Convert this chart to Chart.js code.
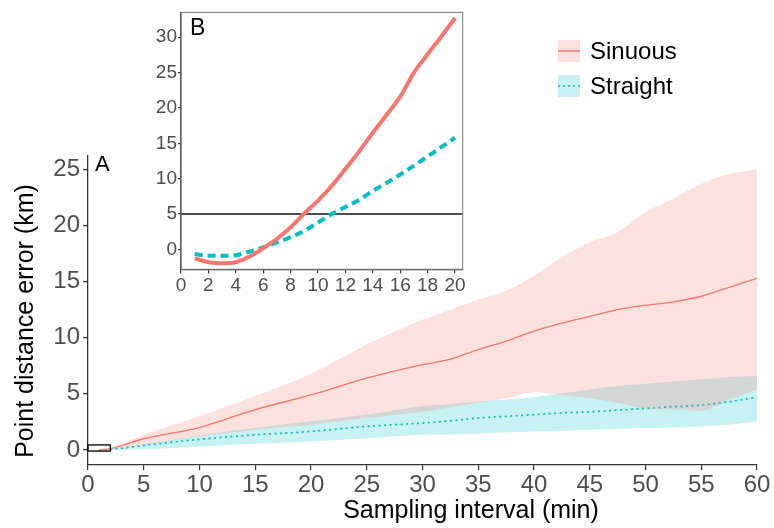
<!DOCTYPE html>
<html>
<head>
<meta charset="utf-8">
<script src="https://cdn.jsdelivr.net/npm/chart.js@4.4.0/dist/chart.umd.min.js"></script>
<style>
  body { margin: 0; background: #fff; }
  #wrap { position: relative; width: 774px; height: 528px; }
  #main { position: absolute; left: 0; top: 0; }
  #inset { position: absolute; left: 140px; top: 0; }
</style>
</head>
<body>
<div id="wrap">
  <canvas id="main" width="774" height="528"></canvas>
  <canvas id="inset" width="335" height="300"></canvas>
</div>
<script>
// panel A: sampling interval (min) vs point distance error (km)
var interval = [1, 2, 5, 10, 15, 20, 25, 30, 32.5, 35, 37.5, 40, 42.5, 45, 47.5, 50, 52.5, 55, 57.5, 60];
var sinuousMean = [0, 0.12, 1.0, 2.0, 3.6, 4.9, 6.4, 7.6, 8.1, 8.95, 9.7, 10.6, 11.3, 11.9, 12.5, 12.9, 13.2, 13.7, 14.5, 15.3];
var sinuousLow = [0, 0.08, 0.45, 1.2, 1.8, 2.25, 2.85, 3.4, 3.8, 4.2, 4.6, 5.15, 4.9, 4.6, 4.2, 3.7, 3.6, 3.5, 4.5, 5.4];
var sinuousHigh = [0, 0.15, 1.35, 3.0, 4.8, 6.8, 9.4, 11.6, 12.5, 13.4, 14.2, 15.5, 17.2, 18.5, 19.4, 21.2, 22.4, 23.7, 24.6, 25.0];
var straightMean = [0, 0.05, 0.4, 0.95, 1.35, 1.65, 2.1, 2.4, 2.6, 2.85, 3.0, 3.15, 3.3, 3.4, 3.55, 3.7, 3.85, 4.0, 4.3, 4.7];
var straightLow = [0, 0.02, 0.05, 0.3, 0.55, 0.75, 1.05, 1.35, 1.4, 1.45, 1.55, 1.65, 1.7, 1.8, 1.9, 1.95, 2.0, 2.1, 2.25, 2.55];
var straightHigh = [0, 0.08, 0.5, 1.3, 1.95, 2.55, 3.15, 3.9, 4.1, 4.3, 4.5, 4.7, 5.05, 5.4, 5.7, 5.9, 6.1, 6.3, 6.5, 6.6];
var xTicks = [0, 5, 10, 15, 20, 25, 30, 35, 40, 45, 50, 55, 60];
var yTicks = [0, 5, 10, 15, 20, 25];
var zoomBoxX = [0, 2];
var zoomBoxY = [-0.1, 0.45];

// panel B: zoom on first 20 min
var intervalB = [1, 2, 3, 4, 5, 6, 7, 8, 9, 10, 11, 12, 13, 14, 15, 16, 17, 18, 19, 20];
var sinuousB = [-1.26, -1.8, -1.95, -1.8, -1.0, 0.2, 1.5, 3.15, 5.1, 6.9, 9.0, 11.4, 13.85, 16.5, 19.0, 21.6, 25.0, 27.6, 30.1, 32.7];
var straightB = [-0.65, -0.9, -0.9, -0.8, -0.3, 0.3, 1.0, 1.75, 2.65, 3.8, 5.0, 6.0, 7.0, 8.3, 9.4, 10.6, 11.85, 13.15, 14.45, 15.8];
var xTicksB = [0, 2, 4, 6, 8, 10, 12, 14, 16, 18, 20];
var yTicksB = [0, 5, 10, 15, 20, 25, 30];
var refLineB = 5;

var RED = '#F8766D';
var CYAN = '#00BFC4';
var RED_FILL = 'rgba(248,118,109,0.22)';
var CYAN_FILL = 'rgba(0,191,196,0.22)';
var FONT = '"Liberation Sans", Arial, sans-serif';

function pts(xs, ys) {
    return xs.map(function (x, i) { return { x: x, y: ys[i] }; });
}

var extras = {
    id: 'extras',
    afterDraw: function (chart) {
        var c = chart.ctx, xs = chart.scales.x, ys = chart.scales.y;
        c.save();
        // zoom rectangle
        c.strokeStyle = '#000';
        c.lineWidth = 1.3;
        var x0 = xs.getPixelForValue(zoomBoxX[0]), x1 = xs.getPixelForValue(zoomBoxX[1]);
        var y0 = ys.getPixelForValue(zoomBoxY[1]), y1 = ys.getPixelForValue(zoomBoxY[0]);
        c.strokeRect(x0, y0, x1 - x0, y1 - y0);

        c.fillStyle = '#000';
        c.textBaseline = 'middle';
        c.font = '22px ' + FONT;
        c.textAlign = 'left';
        c.fillText('A', 95, 165);

        c.font = '25px ' + FONT;
        c.textAlign = 'center';
        c.fillText('Sampling interval (min)', 471, 511);
        c.save();
        c.translate(26, 321);
        c.rotate(-Math.PI / 2);
        c.fillText('Point distance error (km)', 0, 0);
        c.restore();

        // legend
        var items = [['Sinuous', RED, RED_FILL, []], ['Straight', CYAN, CYAN_FILL, [2, 3]]];
        c.font = '24px ' + FONT;
        c.textAlign = 'left';
        items.forEach(function (it, i) {
            var top = 40 + i * 35;
            c.fillStyle = it[2];
            c.fillRect(558, top, 22, 22);
            c.strokeStyle = it[1];
            c.lineWidth = 1.5;
            c.setLineDash(it[3]);
            c.beginPath();
            c.moveTo(558, top + 11);
            c.lineTo(580, top + 11);
            c.stroke();
            c.setLineDash([]);
            c.fillStyle = '#000';
            c.fillText(it[0], 590, top + 12);
        });
        c.restore();
    }
};

var axisStyle = function (size) {
    return {
        grid: { drawOnChartArea: false, tickLength: 5, color: '#333', lineWidth: 1.2 },
        border: { display: true, color: '#333', width: 1.3 },
        ticks: { color: '#4d4d4d', font: { size: size, family: FONT }, maxRotation: 0, autoSkip: false }
    };
};

var band = { borderWidth: 0, pointRadius: 0, cubicInterpolationMode: 'monotone' };
function ds(extra) { return Object.assign({}, band, extra); }

var mx = axisStyle(24), my = axisStyle(24);
mx.ticks.padding = 1;
my.ticks.padding = 3;
new Chart(document.getElementById('main'), {
    type: 'line',
    data: {
        datasets: [
            ds({ data: pts(interval, sinuousLow), fill: false }),
            ds({ data: pts(interval, sinuousHigh), fill: 0, backgroundColor: RED_FILL }),
            ds({ data: pts(interval, straightLow), fill: false }),
            ds({ data: pts(interval, straightHigh), fill: 2, backgroundColor: CYAN_FILL }),
            ds({ label: 'Sinuous', data: pts(interval, sinuousMean), borderColor: RED, borderWidth: 1.3, fill: false }),
            ds({ label: 'Straight', data: pts(interval, straightMean), borderColor: CYAN, borderWidth: 1.7, borderDash: [2, 3.5], fill: false })
        ]
    },
    options: {
        responsive: false,
        animation: false,
        layout: { padding: { left: 0, right: 17, top: 156, bottom: 0 } },
        plugins: { legend: { display: false }, tooltip: { enabled: false } },
        scales: {
            x: Object.assign(mx, {
                type: 'linear', min: 0, max: 60,
                afterBuildTicks: function (s) { s.ticks = xTicks.map(function (v) { return { value: v }; }); },
                afterFit: function (s) { s.height = 63; }
            }),
            y: Object.assign(my, {
                min: -1.34, max: 26.2,
                afterBuildTicks: function (s) { s.ticks = yTicks.map(function (v) { return { value: v }; }); },
                afterFit: function (s) { s.width = 88; }
            })
        }
    },
    plugins: [extras]
});

var insetExtras = {
    id: 'insetExtras',
    beforeDatasetsDraw: function (chart) {
        var c = chart.ctx, a = chart.chartArea;
        var y = chart.scales.y.getPixelForValue(refLineB);
        c.save();
        c.strokeStyle = '#111';
        c.lineWidth = 1.5;
        c.beginPath();
        c.moveTo(a.left, y);
        c.lineTo(a.right, y);
        c.stroke();
        c.restore();
    },
    afterDraw: function (chart) {
        var c = chart.ctx, a = chart.chartArea;
        c.save();
        c.strokeStyle = '#777';
        c.lineWidth = 1;
        c.strokeRect(a.left, a.top, a.right - a.left, a.bottom - a.top);
        c.fillStyle = '#000';
        c.font = '23px ' + FONT;
        c.textBaseline = 'middle';
        c.fillText('B', a.left + 9, a.top + 16);
        c.restore();
    }
};

var bx = axisStyle(19), by = axisStyle(19);
bx.grid.tickLength = 4; by.grid.tickLength = 3;
bx.ticks.padding = 1; by.ticks.padding = 1;
new Chart(document.getElementById('inset'), {
    type: 'line',
    data: {
        datasets: [
            { label: 'Sinuous', data: pts(intervalB, sinuousB), borderColor: RED, borderWidth: 4, pointRadius: 0, cubicInterpolationMode: 'monotone', fill: false },
            { label: 'Straight', data: pts(intervalB, straightB), borderColor: CYAN, borderWidth: 4, borderDash: [8, 5], pointRadius: 0, cubicInterpolationMode: 'monotone', fill: false }
        ]
    },
    options: {
        responsive: false,
        animation: false,
        layout: { padding: { left: 0, right: 12.3, top: 9, bottom: 0 } },
        plugins: { legend: { display: false }, tooltip: { enabled: false } },
        scales: {
            x: Object.assign(bx, {
                type: 'linear', min: 0, max: 20.56,
                afterBuildTicks: function (s) { s.ticks = xTicksB.map(function (v) { return { value: v }; }); },
                afterFit: function (s) { s.height = 30.7; }
            }),
            y: Object.assign(by, {
                min: -2.8, max: 33.5,
                afterBuildTicks: function (s) { s.ticks = yTicksB.map(function (v) { return { value: v }; }); },
                afterFit: function (s) { s.width = 41; }
            })
        }
    },
    plugins: [insetExtras]
});
</script>
</body>
</html>
